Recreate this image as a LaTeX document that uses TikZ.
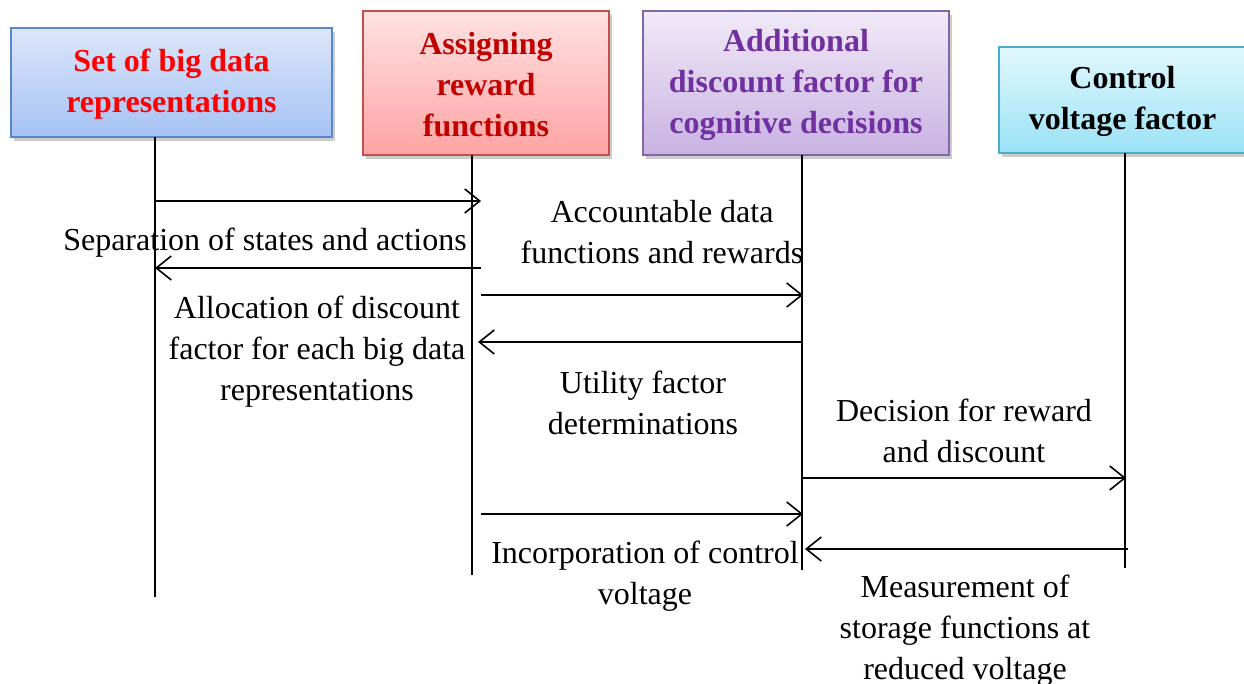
\documentclass[tikz,border=0pt]{standalone}
\usepackage{fontspec}
\setmainfont{Liberation Serif}
\usetikzlibrary{arrows.meta,shadows}

\definecolor{blueTop}{HTML}{DCE6FA}
\definecolor{blueBot}{HTML}{A5C2F4}
\definecolor{blueLine}{HTML}{5A86C8}
\definecolor{redTop}{HTML}{FFE2E2}
\definecolor{redBot}{HTML}{FFA3A3}
\definecolor{redLine}{HTML}{C4504D}
\definecolor{redText}{HTML}{C00000}
\definecolor{purTop}{HTML}{F1EAF8}
\definecolor{purBot}{HTML}{C8B2E2}
\definecolor{purLine}{HTML}{8466A6}
\definecolor{purText}{HTML}{7030A0}
\definecolor{cyaTop}{HTML}{E2F8FD}
\definecolor{cyaBot}{HTML}{9AE2F6}
\definecolor{cyaLine}{HTML}{4BACC6}

\tikzset{
  actor/.style={draw, line width=2pt, inner sep=0pt, align=center,
    font=\fontsize{32}{41}\selectfont\bfseries,
    drop shadow={shadow xshift=3pt, shadow yshift=-4pt, fill=black!50, opacity=.4}},
  lifeline/.style={line width=1.6pt},
  msg/.style={line width=1.6pt, -{Straight Barb[length=15pt,width=24pt,line width=1.6pt]}},
  note/.style={align=center, inner sep=0pt, font=\fontsize{32}{41}\selectfont}
}

\begin{document}
\begin{tikzpicture}[x=1pt,y=-1pt]
\clip (0,0) rectangle (1244,684);
\useasboundingbox (0,0) rectangle (1244,684);

% participants
\node[actor, top color=blueTop, bottom color=blueBot, draw=blueLine, text=red,
  minimum width=321pt, minimum height=109pt] (bd) at (171.5,82.5)
  {\rule{0pt}{26pt}Set of big data\\representations};
\node[actor, top color=redTop, bottom color=redBot, draw=redLine, text=redText,
  minimum width=246pt, minimum height=144pt] (rw) at (486,83)
  {\rule{0pt}{26pt}Assigning\\reward\\functions};
\node[actor, top color=purTop, bottom color=purBot, draw=purLine, text=purText,
  minimum width=306pt, minimum height=144pt] (df) at (796,83)
  {\rule{0pt}{26pt}Additional\\discount factor for\\cognitive decisions};
\node[actor, top color=cyaTop, bottom color=cyaBot, draw=cyaLine, text=black,
  minimum width=247pt, minimum height=106pt] (cv) at (1122.5,100)
  {\rule{0pt}{26pt}Control\\voltage factor};

% lifelines
\coordinate (bdTop) at (155,137);  \coordinate (bdEnd) at (155,597);
\coordinate (rwTop) at (472,155);  \coordinate (rwEnd) at (472,575);
\coordinate (dfTop) at (802,155);  \coordinate (dfEnd) at (802,570);
\coordinate (cvTop) at (1125,153); \coordinate (cvEnd) at (1125,568);
\draw[lifeline] (bdTop) -- (bdEnd);
\draw[lifeline] (rwTop) -- (rwEnd);
\draw[lifeline] (dfTop) -- (dfEnd);
\draw[lifeline] (cvTop) -- (cvEnd);

% message end points
\coordinate (m1a) at (155,201);  \coordinate (m1b) at (481,201);
\coordinate (m2a) at (481,268);  \coordinate (m2b) at (155,268);
\coordinate (m3a) at (481,295);  \coordinate (m3b) at (803,295);
\coordinate (m4a) at (802,342);  \coordinate (m4b) at (478,342);
\coordinate (m5a) at (802,478);  \coordinate (m5b) at (1126,478);
\coordinate (m6a) at (481,514);  \coordinate (m6b) at (803,514);
\coordinate (m7a) at (1128,549); \coordinate (m7b) at (805,549);

\draw[msg] (m1a) -- (m1b);
\draw[msg] (m2a) -- (m2b);
\draw[msg] (m3a) -- (m3b);
\draw[msg] (m4a) -- (m4b);
\draw[msg] (m5a) -- (m5b);
\draw[msg] (m6a) -- (m6b);
\draw[msg] (m7a) -- (m7b);

% message texts
\node[note] (t1) at (265,243) {Separation of states and actions};
\node[note] (t2) at (662,232) {Accountable data\\functions and rewards};
\node[note] (t3) at (317,352) {Allocation of discount\\factor for each big data\\representations};
\node[note] (t4) at (643,403) {Utility factor\\determinations};
\node[note] (t5) at (964,431) {Decision for reward\\and discount};
\node[note] (t6) at (645,576) {Incorporation of control\\voltage};
\node[note] (t7) at (965,631) {Measurement of\\storage functions at\\reduced voltage};
\end{tikzpicture}
\end{document}
